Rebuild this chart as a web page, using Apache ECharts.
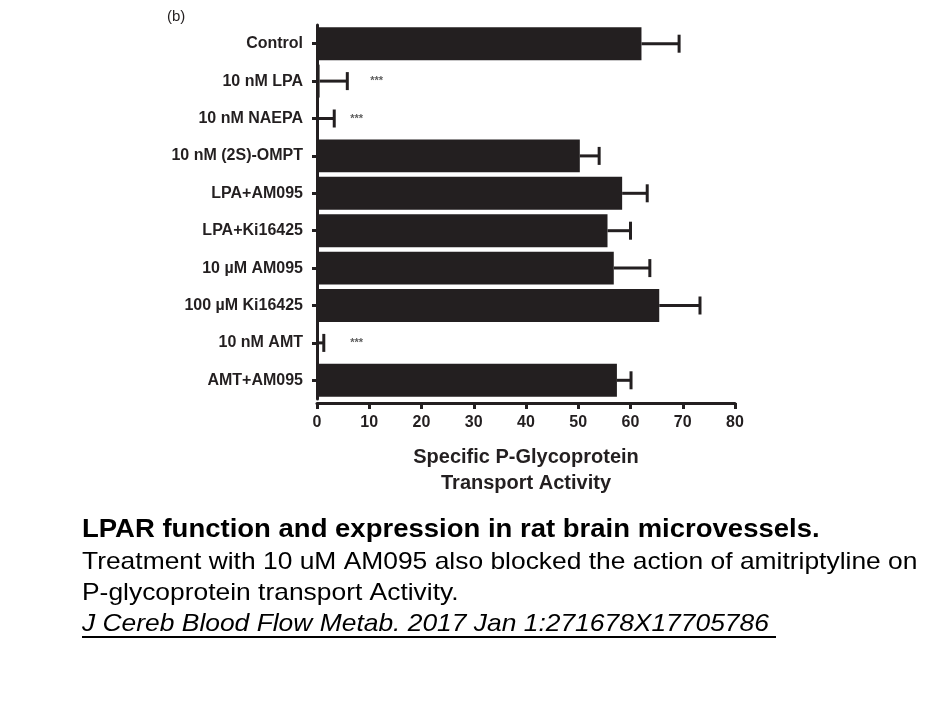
<!DOCTYPE html>
<html>
<head>
<meta charset="utf-8">
<script src="https://cdn.jsdelivr.net/npm/echarts@6/dist/echarts.min.js"></script>
<style>
  html, body { margin: 0; padding: 0; background: #fff; }
  #chart { width: 945px; height: 709px; }
</style>
</head>
<body>
<div id="chart"></div>
<script>
// treatments, top to bottom
const categories = [
  "Control",
  "10 nM LPA",
  "10 nM NAEPA",
  "10 nM (2S)-OMPT",
  "LPA+AM095",
  "LPA+Ki16425",
  "10 µM AM095",
  "100 µM Ki16425",
  "10 nM AMT",
  "AMT+AM095",
];
const activity = [62.1, 0.5, 0.3, 50.3, 58.4, 55.6, 56.8, 65.5, 0.3, 57.4];
const sem = [7.2, 5.3, 3.0, 3.7, 4.8, 4.4, 6.9, 7.8, 1.0, 2.7];
// significance marks and where they sit on the x axis
const sigMark = ["", "***", "***", "", "", "", "", "", "***", ""];
const sigAt = [0, 11.4, 7.6, 0, 0, 0, 0, 0, 7.6, 0];
const xTicks = { min: 0, max: 80, interval: 10 };

const captionLines = [
  "LPAR function and expression in rat brain microvessels.",
  "Treatment with 10 uM AM095 also blocked the action of amitriptyline on",
  "P-glycoprotein transport Activity.",
  "J Cereb Blood Flow Metab. 2017 Jan 1:271678X17705786",
];

const ink = "#231f20";
const fam = "'Liberation Sans', Arial, Helvetica, sans-serif";
const chart = echarts.init(document.getElementById("chart"));

const errData = activity.map((v, i) => [v, i, sem[i]]);
const sigData = sigMark
  .map((m, i) => (m ? { value: [sigAt[i], i], mark: m } : null))
  .filter((d) => d);

function captionText(text, y, font) {
  return {
    type: "text",
    x: 82,
    y: y,
    scaleX: 1.1,
    style: { text: text, x: 0, y: 0, verticalAlign: "middle", fill: "#000", font: font },
  };
}

const option = {
  animation: false,
  backgroundColor: "#fff",
  grid: { left: 317, right: 210, top: 25, height: 374 },
  xAxis: {
    type: "value",
    min: xTicks.min,
    max: xTicks.max,
    interval: xTicks.interval,
    offset: 4,
    axisLine: { show: true, lineStyle: { color: ink, width: 3 } },
    axisTick: { show: true, length: 6, lineStyle: { color: ink, width: 3 } },
    splitLine: { show: false },
    axisLabel: {
      color: ink,
      fontSize: 16,
      fontWeight: "bold",
      fontFamily: fam,
      margin: 12,
    },
    name: "Specific P-Glycoprotein\nTransport Activity",
    nameLocation: "middle",
    nameGap: 41,
    nameTextStyle: {
      color: ink,
      fontSize: 20,
      fontWeight: "bold",
      lineHeight: 26,
      fontFamily: fam,
    },
  },
  yAxis: {
    type: "category",
    inverse: true,
    data: categories,
    axisLine: { show: true, lineStyle: { color: ink, width: 3 } },
    axisTick: {
      show: true,
      alignWithLabel: true,
      length: 5,
      lineStyle: { color: ink, width: 3 },
    },
    axisLabel: {
      color: ink,
      fontSize: 16,
      fontWeight: "bold",
      fontFamily: fam,
      margin: 14,
    },
  },
  series: [
    {
      name: "activity",
      type: "bar",
      data: activity,
      barCategoryGap: "12%",
      itemStyle: { color: ink },
      z: 2,
    },
    {
      name: "sem",
      type: "custom",
      data: errData,
      encode: { x: 0, y: 1 },
      z: 3,
      renderItem: (params, api) => {
        const v = api.value(0);
        const idx = api.value(1);
        const e = api.value(2);
        const p1 = api.coord([v, idx]);
        const p2 = api.coord([v + e, idx]);
        const style = { stroke: ink, lineWidth: 3 };
        return {
          type: "group",
          children: [
            { type: "line", shape: { x1: p1[0], y1: p1[1], x2: p2[0], y2: p2[1] }, style },
            { type: "line", shape: { x1: p2[0], y1: p2[1] - 9, x2: p2[0], y2: p2[1] + 9 }, style },
          ],
        };
      },
    },
    {
      name: "sig",
      type: "scatter",
      data: sigData,
      symbolSize: 0,
      label: {
        show: true,
        position: "inside",
        formatter: (p) => p.data.mark,
        color: "#333",
        fontSize: 11,
        fontWeight: "bold",
        fontFamily: fam,
      },
    },
  ],
  graphic: [
    {
      type: "text",
      left: 167,
      top: 9,
      style: { text: "(b)", fill: ink, font: "15px " + fam },
    },
    captionText(captionLines[0], 530, "bold 25px " + fam),
    captionText(captionLines[1], 562, "24px " + fam),
    captionText(captionLines[2], 593, "24px " + fam),
    captionText(captionLines[3], 624, "italic 24px " + fam),
    {
      type: "line",
      shape: { x1: 82, y1: 637, x2: 776, y2: 637 },
      style: { stroke: "#000", lineWidth: 2 },
    },
  ],
};

chart.setOption(option);
</script>
</body>
</html>
